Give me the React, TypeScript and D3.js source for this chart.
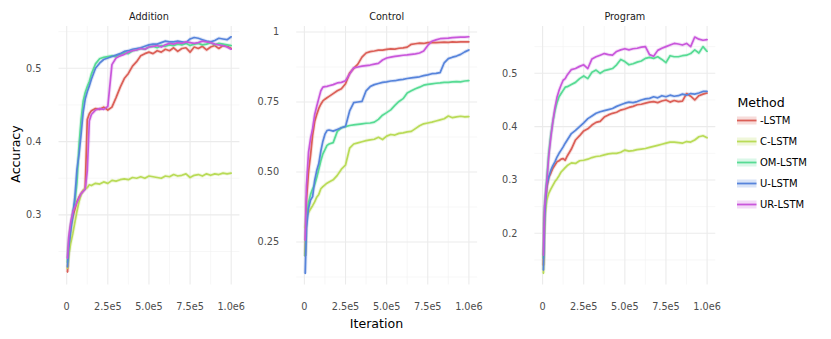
import React from "react";
import * as d3 from "d3";

// iterations sampled along the x axis (shared by all panels)
const iterations = [
  5000, 12500, 25000, 37500, 50000, 62500, 75000, 87500, 100000, 112500, 125000, 137500, 150000,
  175000, 200000, 225000, 250000, 275000, 300000, 325000, 350000, 375000, 400000, 425000, 450000,
  475000, 500000, 525000, 550000, 575000, 600000, 625000, 650000, 675000, 700000, 725000, 750000,
  775000, 800000, 825000, 850000, 875000, 900000, 925000, 950000, 975000, 1000000,
];

const methods = ["-LSTM", "C-LSTM", "OM-LSTM", "U-LSTM", "UR-LSTM"];
const colors = ["#DB5F57", "#B9DB57", "#57DB94", "#5784DB", "#C957DB"];

// Addition
const additionLSTM = [
  0.222, 0.258, 0.285, 0.298, 0.308, 0.318, 0.324, 0.329, 0.333, 0.336, 0.43, 0.438, 0.442,
  0.445, 0.444, 0.447, 0.443, 0.447, 0.46, 0.474, 0.486, 0.493, 0.503, 0.509, 0.517,
  0.52, 0.522, 0.52, 0.524, 0.522, 0.526, 0.524, 0.528, 0.523, 0.527, 0.528, 0.522,
  0.529, 0.527, 0.53, 0.525, 0.529, 0.531, 0.527, 0.531, 0.53, 0.527,
];
const additionC = [
  0.227, 0.245, 0.262, 0.275, 0.29, 0.305, 0.318, 0.328, 0.333, 0.336, 0.337, 0.341, 0.34,
  0.343, 0.342, 0.345, 0.343, 0.347, 0.346, 0.348, 0.349, 0.348, 0.351, 0.35, 0.352,
  0.35, 0.353, 0.352, 0.351, 0.35, 0.353, 0.352, 0.355, 0.353, 0.354, 0.356, 0.351,
  0.354, 0.355, 0.353, 0.356, 0.354, 0.356, 0.355, 0.357, 0.356, 0.357,
];
const additionOM = [
  0.235, 0.262, 0.285, 0.303, 0.318, 0.345, 0.395, 0.43, 0.455, 0.467, 0.475, 0.482, 0.492,
  0.506, 0.513, 0.515, 0.516, 0.517, 0.516, 0.519, 0.521, 0.52, 0.524, 0.525, 0.527,
  0.526, 0.529, 0.53, 0.528, 0.531, 0.53, 0.532, 0.531, 0.533, 0.532, 0.534, 0.531,
  0.533, 0.534, 0.532, 0.533, 0.535, 0.532, 0.534, 0.533, 0.532, 0.531,
];
const additionU = [
  0.229, 0.255, 0.28, 0.3, 0.325, 0.362, 0.383, 0.41, 0.44, 0.458, 0.468, 0.476, 0.485,
  0.5, 0.507, 0.512, 0.514, 0.516, 0.518, 0.52, 0.523, 0.524, 0.526, 0.527, 0.528,
  0.53, 0.532, 0.533, 0.533, 0.535, 0.537, 0.536, 0.536, 0.537, 0.536, 0.535, 0.54,
  0.542, 0.541, 0.539, 0.537, 0.536, 0.538, 0.541, 0.54, 0.539, 0.543,
];
const additionUR = [
  0.241, 0.27, 0.29, 0.304, 0.311, 0.317, 0.323, 0.329, 0.332, 0.335, 0.36, 0.428, 0.437,
  0.443, 0.445, 0.444, 0.448, 0.505, 0.514, 0.517, 0.519, 0.522, 0.524, 0.525, 0.527,
  0.526, 0.529, 0.53, 0.531, 0.529, 0.532, 0.534, 0.533, 0.535, 0.534, 0.536, 0.535,
  0.534, 0.535, 0.537, 0.536, 0.535, 0.533, 0.532, 0.531, 0.529, 0.526,
];

// Control
const controlLSTM = [
  0.2, 0.4, 0.5, 0.56, 0.632, 0.68, 0.705, 0.727, 0.742, 0.754, 0.76, 0.765, 0.77,
  0.78, 0.79, 0.797, 0.815, 0.853, 0.87, 0.885, 0.91, 0.925, 0.93, 0.932, 0.935,
  0.935, 0.938, 0.94, 0.939, 0.942, 0.943, 0.946, 0.956, 0.958, 0.96, 0.959, 0.962,
  0.963, 0.962, 0.963, 0.964, 0.963, 0.965, 0.964, 0.965, 0.965, 0.965,
];
const controlC = [
  0.3, 0.34, 0.355, 0.368, 0.38, 0.393, 0.41, 0.42, 0.44, 0.448, 0.454, 0.46, 0.464,
  0.472, 0.488, 0.51, 0.525, 0.585, 0.6, 0.604, 0.608, 0.612, 0.615, 0.617, 0.624,
  0.616, 0.628, 0.634, 0.632, 0.638, 0.64, 0.643, 0.645, 0.655, 0.665, 0.672, 0.675,
  0.678, 0.682, 0.686, 0.69, 0.7, 0.694, 0.697, 0.699, 0.697, 0.698,
];
const controlOM = [
  0.2, 0.33, 0.39, 0.42, 0.44, 0.455, 0.48, 0.51, 0.54, 0.565, 0.58, 0.595, 0.6,
  0.605, 0.645, 0.658, 0.662, 0.666, 0.668, 0.67, 0.672, 0.674, 0.675, 0.678, 0.688,
  0.703, 0.712, 0.722, 0.738, 0.752, 0.762, 0.782, 0.79, 0.797, 0.803, 0.81, 0.813,
  0.815, 0.817, 0.818, 0.82, 0.82, 0.822, 0.823, 0.822, 0.825, 0.826,
];
const controlU = [
  0.138, 0.3, 0.37, 0.4, 0.412, 0.47, 0.505, 0.53, 0.575, 0.61, 0.635, 0.648, 0.65,
  0.646, 0.652, 0.658, 0.663, 0.718, 0.748, 0.75, 0.752, 0.79, 0.805, 0.812, 0.816,
  0.82, 0.822, 0.825, 0.826, 0.829, 0.831, 0.834, 0.836, 0.838, 0.84, 0.844, 0.847,
  0.851, 0.852, 0.855, 0.89, 0.905, 0.91, 0.914, 0.92, 0.929, 0.936,
];
const controlUR = [
  0.257, 0.45, 0.57, 0.62, 0.655, 0.705, 0.735, 0.763, 0.79, 0.803, 0.805, 0.806, 0.808,
  0.812, 0.818, 0.82, 0.826, 0.85, 0.872, 0.875, 0.878, 0.88, 0.882, 0.885, 0.888,
  0.9, 0.907, 0.91, 0.913, 0.915, 0.917, 0.918, 0.92, 0.922, 0.925, 0.932, 0.952,
  0.967, 0.972, 0.976, 0.977, 0.978, 0.98, 0.981, 0.982, 0.982, 0.983,
];

// Program
const programLSTM = [
  0.14, 0.24, 0.285, 0.305, 0.313, 0.322, 0.328, 0.334, 0.336, 0.339, 0.34, 0.337, 0.345,
  0.358, 0.375, 0.383, 0.392, 0.396, 0.403, 0.408, 0.41, 0.418, 0.422, 0.425, 0.427,
  0.431, 0.433, 0.436, 0.438, 0.441, 0.442, 0.444, 0.446, 0.447, 0.445, 0.448, 0.45,
  0.446, 0.449, 0.447, 0.448, 0.462, 0.457, 0.45, 0.458, 0.461, 0.463,
];
const programC = [
  0.125, 0.23, 0.262, 0.275, 0.283, 0.29, 0.297, 0.302, 0.308, 0.315, 0.319, 0.323, 0.327,
  0.332, 0.331, 0.336, 0.337, 0.339, 0.342, 0.344, 0.345, 0.347, 0.349, 0.35, 0.35,
  0.352, 0.356, 0.354, 0.355, 0.357, 0.358, 0.359, 0.361, 0.363, 0.365, 0.367, 0.369,
  0.371, 0.371, 0.37, 0.369, 0.372, 0.371, 0.375, 0.381, 0.383, 0.379,
];
const programOM = [
  0.153, 0.25, 0.3, 0.35, 0.385, 0.41, 0.43, 0.445, 0.456, 0.462, 0.468, 0.474, 0.475,
  0.479, 0.483, 0.49, 0.495, 0.49, 0.502, 0.506, 0.5, 0.505, 0.507, 0.509, 0.516,
  0.526, 0.522, 0.516, 0.518, 0.521, 0.523, 0.528, 0.53, 0.528, 0.531, 0.526, 0.52,
  0.533, 0.531, 0.531, 0.533, 0.534, 0.537, 0.544, 0.538, 0.55, 0.541,
];
const programU = [
  0.131, 0.23, 0.29, 0.305, 0.318, 0.327, 0.334, 0.343, 0.35, 0.356, 0.362, 0.369, 0.375,
  0.387, 0.393, 0.4, 0.407, 0.415, 0.42, 0.425, 0.428, 0.43, 0.432, 0.434, 0.438,
  0.441, 0.444, 0.446, 0.445, 0.447, 0.45, 0.452, 0.453, 0.456, 0.454, 0.458, 0.456,
  0.459, 0.457, 0.458, 0.461, 0.459, 0.462, 0.461, 0.463, 0.466, 0.466,
];
const programUR = [
  0.159, 0.25, 0.295, 0.345, 0.38, 0.41, 0.435, 0.455, 0.468, 0.478, 0.487, 0.49, 0.497,
  0.507, 0.509, 0.513, 0.516, 0.509, 0.527, 0.531, 0.534, 0.537, 0.535, 0.534, 0.541,
  0.544, 0.546, 0.544, 0.546, 0.547, 0.549, 0.55, 0.535, 0.532, 0.543, 0.547, 0.55,
  0.553, 0.556, 0.555, 0.553, 0.556, 0.55, 0.568, 0.564, 0.562, 0.563,
];

const xTicks = [0, 250000, 500000, 750000, 1000000];
const xTickLabels = ["0", "2.5e5", "5.0e5", "7.5e5", "1.0e6"];
const xMinor = [125000, 375000, 625000, 875000];

const facets = [
  {
    title: "Addition",
    series: [additionLSTM, additionC, additionOM, additionU, additionUR],
    yDomain: [0.205, 0.5577],
    yTicks: [0.3, 0.4, 0.5],
    yTickLabels: ["0.3", "0.4", "0.5"],
    yMinor: [0.25, 0.35, 0.45, 0.55],
  },
  {
    title: "Control",
    series: [controlLSTM, controlC, controlOM, controlU, controlUR],
    yDomain: [0.0982, 1.0214],
    yTicks: [0.25, 0.5, 0.75, 1],
    yTickLabels: ["0.25", "0.50", "0.75", "1"],
    yMinor: [0.125, 0.375, 0.625, 0.875],
  },
  {
    title: "Program",
    series: [programLSTM, programC, programOM, programU, programUR],
    yDomain: [0.104, 0.5887],
    yTicks: [0.2, 0.3, 0.4, 0.5],
    yTickLabels: ["0.2", "0.3", "0.4", "0.5"],
    yMinor: [0.15, 0.25, 0.35, 0.45, 0.55],
  },
];

const W = 831;
const H = 339;
const panelTop = 26;
const panelBottom = 284.5;
const panelX0 = [66.7, 304.4, 542.6];
const dataWidth = 164.5;
const pad = 8.2;
const font = "DejaVu Sans, Verdana, sans-serif";

const Panel = ({facet, x0}) => {
  const left = x0 - pad;
  const right = x0 + dataWidth + pad;
  const x = d3.scaleLinear().domain([0, 1000000]).range([x0, x0 + dataWidth]);
  const y = d3.scaleLinear().domain(facet.yDomain).range([panelBottom, panelTop]);
  const line = d3.line<number>()
    .x((d, i) => x(iterations[i]))
    .y(d => y(d));

  return (
    <g>
      {/* minor grid */}
      {facet.yMinor.map(v => (
        <line key={"ym" + v} x1={left} x2={right} y1={y(v)} y2={y(v)} stroke="#F2F2F2" strokeWidth={0.6} />
      ))}
      {xMinor.map(v => (
        <line key={"xm" + v} x1={x(v)} x2={x(v)} y1={panelTop} y2={panelBottom} stroke="#F2F2F2" strokeWidth={0.6} />
      ))}
      {/* major grid */}
      {facet.yTicks.map(v => (
        <line key={"y" + v} x1={left} x2={right} y1={y(v)} y2={y(v)} stroke="#EBEBEB" strokeWidth={1.1} />
      ))}
      {xTicks.map(v => (
        <line key={"x" + v} x1={x(v)} x2={x(v)} y1={panelTop} y2={panelBottom} stroke="#EBEBEB" strokeWidth={1.1} />
      ))}

      {/* series */}
      {facet.series.map((vals, i) => (
        <path key={"h" + i} d={line(vals)} fill="none" stroke={colors[i]} strokeOpacity={0.2}
              strokeWidth={3.6} strokeLinejoin="round" />
      ))}
      {facet.series.map((vals, i) => (
        <path key={"s" + i} d={line(vals)} fill="none" stroke={colors[i]} strokeWidth={1.7}
              strokeLinejoin="round" strokeLinecap="round" />
      ))}

      {/* y tick labels */}
      {facet.yTicks.map((v, i) => (
        <text key={"yl" + v} x={left - 17} y={y(v)} dy="0.35em" textAnchor="end"
              fontSize={9.7} fill="#4D4D4D" fontFamily={font}>{facet.yTickLabels[i]}</text>
      ))}
      {/* x tick labels */}
      {xTicks.map((v, i) => (
        <text key={"xl" + v} x={x(v)} y={310} textAnchor="middle"
              fontSize={9.7} fill="#4D4D4D" fontFamily={font}>{xTickLabels[i]}</text>
      ))}
      {/* strip title */}
      <text x={(left + right) / 2} y={20} textAnchor="middle" fontSize={9.7}
            fill="#1A1A1A" fontFamily={font}>{facet.title}</text>
    </g>
  );
};

const App = () => {
  const legendTop = 120.5;
  const legendStep = 21;

  return (
    <svg width={W} height={H} style={{position: "absolute", left: 0, top: 0, background: "#fff"}}>
      <rect x={0} y={0} width={W} height={H} fill="#fff" />
      {facets.map((f, i) => (
        <Panel key={f.title} facet={f} x0={panelX0[i]} />
      ))}

      {/* axis titles */}
      <text transform="translate(19.5,154) rotate(-90)" textAnchor="middle" fontSize={12.6}
            fill="#000" fontFamily={font}>Accuracy</text>
      <text x={376.5} y={327.5} textAnchor="middle" fontSize={12.6} fill="#000"
            fontFamily={font}>Iteration</text>

      {/* legend */}
      <text x={737.5} y={107.3} fontSize={12.6} fill="#000" fontFamily={font}>Method</text>
      {methods.map((m, i) => {
        const cy = legendTop + i * legendStep;
        return (
          <g key={m}>
            <rect x={737} y={cy - 4} width={19.5} height={8} fill={colors[i]} fillOpacity={0.22} />
            <line x1={737} x2={756.5} y1={cy} y2={cy} stroke={colors[i]} strokeWidth={1.8} />
            <text x={760} y={cy} dy="0.36em" fontSize={10} fill="#000" fontFamily={font}>{m}</text>
          </g>
        );
      })}
    </svg>
  );
};

export default App;
